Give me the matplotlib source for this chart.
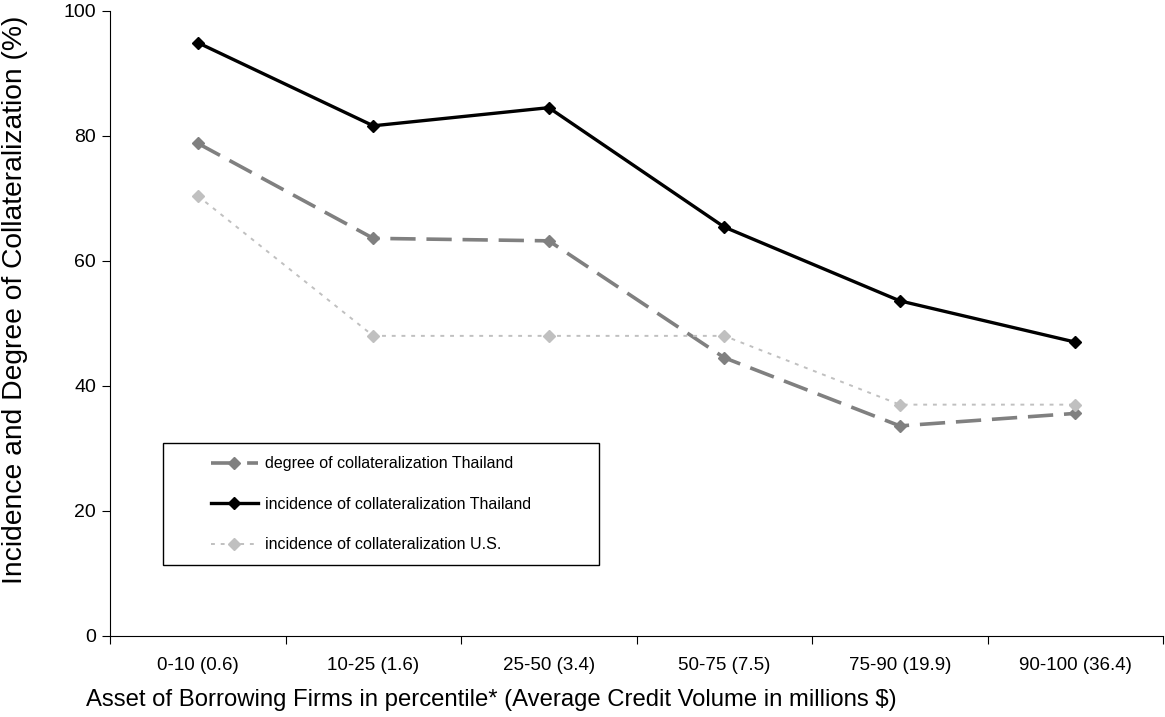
import numpy as np
import matplotlib
matplotlib.use("Agg")
import matplotlib.pyplot as plt
from matplotlib.patches import Rectangle

plt.rcParams['font.family'] = ['Liberation Sans', 'DejaVu Sans']

categories = ["0-10 (0.6)", "10-25 (1.6)", "25-50 (3.4)",
              "50-75 (7.5)", "75-90 (19.9)", "90-100 (36.4)"]
degree_thai = [78.8, 63.6, 63.2, 44.5, 33.6, 35.6]
incidence_thai = [94.9, 81.6, 84.5, 65.4, 53.6, 47.0]
incidence_us = [70.4, 48.0, 48.0, 48.0, 37.0, 37.0]


def main():
    fig = plt.figure(figsize=(11.65, 7.17), dpi=100)
    ax = fig.add_axes([0.0944, 0.113, 0.904, 0.872])
    x = np.arange(len(categories))

    ax.plot(x, degree_thai, color="#808080", lw=2.6, dashes=(7, 3),
            marker="D", ms=6, mfc="#808080", mec="#808080",
            label="degree of collateralization Thailand")
    ax.plot(x, incidence_thai, color="black", lw=2.4,
            marker="D", ms=6, mfc="black", mec="black",
            label="incidence of collateralization Thailand")
    ax.plot(x, incidence_us, color="#c0c0c0", lw=1.4, dashes=(2, 3),
            marker="D", ms=6, mfc="#c0c0c0", mec="#c0c0c0",
            label="incidence of collateralization U.S.")

    ax.set_xlim(-0.5, len(categories) - 0.5)
    ax.set_ylim(0, 100)
    ax.set_yticks(range(0, 101, 20))
    ax.set_xticks(np.arange(len(categories) + 1) - 0.5)
    ax.set_xticklabels([])
    ax.set_xticks(x, minor=True)
    ax.set_xticklabels(categories, minor=True, fontsize=13.5)
    ax.tick_params(axis="x", which="minor", length=0, pad=15)
    ax.tick_params(axis="x", which="major", length=6, direction="out")
    ax.tick_params(axis="y", length=6, direction="out", labelsize=14, pad=4)

    for side in ("top", "right"):
        ax.spines[side].set_visible(False)

    # axis titles (placed like the original, not centred on the axes)
    fig.text(491 / 1165, 1 - 700 / 717,
             "Asset of Borrowing Firms in percentile* (Average Credit Volume in millions $)",
             fontsize=17.2, ha="center", va="center")
    fig.text(15 / 1165, 1 - 300 / 717,
             "Incidence and Degree of Collateralization (%)",
             fontsize=20.3, rotation=90, ha="center", va="center")

    # legend frame drawn separately
    ax.add_patch(Rectangle((0.05, 0.114), 0.414, 0.195, transform=ax.transAxes,
                           fill=False, ec="black", lw=1.0, zorder=3))
    ax.legend(loc="upper left", bbox_to_anchor=(0.091, 0.295),
              frameon=False, fontsize=11.5, labelspacing=1.6,
              handlelength=2.95, handletextpad=0.45, borderaxespad=0,
              borderpad=0.3)

    fig.savefig("out.png", dpi=100)


if __name__ == '__main__':
    main()
